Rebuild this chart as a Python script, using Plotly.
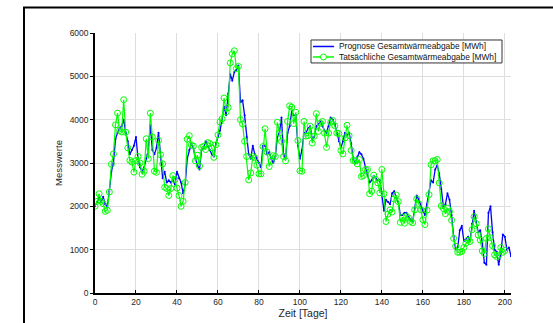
import numpy as np
import plotly.graph_objects as go

# Tatsächliche Gesamtwärmeabgabe [MWh], Tage 0..200
actual = [
    2000, 2115, 2290, 2115, 2060, 1885, 1910, 2330, 2970, 3210,
    3880, 4150, 3750, 3715, 4460, 3710, 3350, 3060, 3020, 2790,
    3055, 3150, 3000, 2740, 2810, 3560, 3100, 4150, 3600, 2810,
    2785, 3520, 3190, 2980, 2440, 2410, 2250, 2410, 2710, 2620,
    2420, 2250, 2000, 2115, 2550, 3550, 3630, 3420, 3390, 3050,
    3180, 2930, 3360, 3385, 3310, 3470, 3450, 3350, 3130, 3420,
    3650, 3950, 4020, 4500, 4180, 4280, 5310, 5520, 5590, 5180,
    5230, 4000, 3900, 3500, 3150, 2610, 2770, 3150, 3120, 2950,
    2750, 2750, 3380, 3790, 3250, 2920, 3040, 3170, 3150, 3940,
    3690, 3500, 3150, 3050, 3960, 4320, 4290, 3910, 4170, 3520,
    2820, 2810, 3960, 3620, 3630, 3850, 3460, 3620, 4140, 3730,
    3920, 3960, 3690, 3360, 3690, 3940, 3980, 3860, 3690, 3680,
    3290, 3210, 3580, 3870, 3630, 3290, 3060, 3050, 2980, 3080,
    2690, 2710, 2850, 2850, 2290, 2350, 2720, 2620, 2540, 2310,
    2850, 2290, 1650, 1820, 1920, 1870, 2170, 2260, 2110, 1630,
    1750, 1610, 1770, 1730, 1650, 1620, 1920, 2170, 2060, 1920,
    1690, 1580, 1910, 2270, 2960, 3050, 3050, 3080, 2540, 2010,
    1950, 1830, 1960, 1880, 1680, 1260, 1080, 940, 940, 960,
    1050, 1150, 1220, 1190, 1460, 1760, 1600, 1340, 1220, 970,
    910, 1260, 1480, 1280, 1090, 880, 840, 870, 1050, 940,
    980,
]

# Prognose Gesamtwärmeabgabe [MWh], Tage 0..203
forecast = [
    2000, 2100, 2200, 2100, 2220, 2050, 2000, 2350, 2800, 3000,
    3550, 3700, 3800, 3850, 4000, 3700, 3500, 3200, 3300, 3400,
    3600, 3100, 2900, 2800, 2900, 3100, 3300, 3870, 3300, 3200,
    3350, 3700, 3250, 2650, 2800, 2550, 2600, 2550, 2600, 2500,
    2800, 2650, 2550, 2300, 2500, 3100, 3300, 3450, 3350, 3100,
    2950, 2850, 3300, 3350, 3500, 3400, 3300, 3200, 3150, 3450,
    3600, 3750, 4000, 4300, 4100, 4600, 5050, 4900, 5100, 5150,
    5250, 4400, 4450, 4100, 3600, 3200, 3100, 3400, 3200, 3100,
    3000, 2900, 3400, 3400, 3200, 3250, 3100, 3000, 3150, 3600,
    3700, 4050, 3200, 3100, 3700, 3850, 4200, 4100, 4100, 3400,
    3100, 3300, 3700, 3700, 3800, 3850, 3550, 3600, 3850, 3900,
    3950, 3850, 3750, 3700, 3850, 4050, 4000, 3900, 3700, 3500,
    3350, 3500, 3700, 3650, 3700, 3450, 3100, 3000, 3150, 3250,
    3200, 3100, 2900, 2750, 2550, 2600, 2700, 2650, 2600, 2600,
    2300, 1900, 2150, 2100, 2050, 2300, 2350, 2200, 2100, 1800,
    1800, 1850, 1850, 1750, 1700, 1650, 1950, 2250, 2150, 2000,
    1900, 1800, 2050, 2350, 2600, 2550, 2850, 2950, 2750, 2400,
    2000, 2050, 2300, 2150, 1800, 1300, 1000, 1050, 1450, 1550,
    1200, 1250, 1300, 1200, 1600, 1900, 1650, 1400, 1450, 1150,
    700, 650, 1850, 2000, 1400, 1000, 950, 650, 900, 1350,
    1300, 1000, 1050, 850,
]

series_names = ["Prognose Gesamtwärmeabgabe [MWh]",
                "Tatsächliche Gesamtwärmeabgabe [MWh]"]
BLUE, GREEN = "#0000ff", "#00ff00"

days_actual = np.arange(len(actual))
days_forecast = np.arange(len(forecast))

FONT = "Liberation Sans, Arial, Helvetica, sans-serif"
TXT = "#262626"

fig = go.Figure()
fig.add_trace(go.Scatter(
    x=days_forecast, y=forecast, mode="lines+markers",
    name=series_names[0],
    line=dict(color=BLUE, width=1.3),
    marker=dict(color=BLUE, size=2),
))
fig.add_trace(go.Scatter(
    x=days_actual, y=actual, mode="lines+markers",
    name=series_names[1],
    line=dict(color=GREEN, width=1.2),
    marker=dict(symbol="circle-open", color=GREEN, size=6,
                line=dict(width=1, color=GREEN)),
))

# plot area in px: x 95..511, y 33..293
L, R, T, B = 95, 511, 33, 293.3
W, H = 553, 323

def px(xp):
    return (xp - L) / (R - L)

def py(yp):
    return (B - yp) / (B - T)

# compact legend box (drawn in paper coordinates)
LG_X0, LG_X1, LG_Y0, LG_Y1 = 311, 502, 40, 63
rows = [46.5, 57.0]
shapes = [
    dict(type="rect", xref="paper", yref="paper",
         x0=px(24), x1=px(620), y0=py(400), y1=py(7.5),
         line=dict(color="black", width=2), fillcolor="rgba(0,0,0,0)",
         layer="above"),
    dict(type="rect", xref="paper", yref="paper",
         x0=px(LG_X0), x1=px(LG_X1), y0=py(LG_Y1), y1=py(LG_Y0),
         line=dict(color="#333333", width=1), fillcolor="white",
         layer="above"),
    dict(type="line", xref="paper", yref="paper",
         x0=px(313), x1=px(334), y0=py(rows[0]), y1=py(rows[0]),
         line=dict(color=BLUE, width=1.5), layer="above"),
    dict(type="line", xref="paper", yref="paper",
         x0=px(313), x1=px(334), y0=py(rows[1]), y1=py(rows[1]),
         line=dict(color=GREEN, width=1.5), layer="above"),
    dict(type="circle", xref="paper", yref="paper",
         x0=px(320.5), x1=px(326.5), y0=py(rows[1] + 3), y1=py(rows[1] - 3),
         line=dict(color=GREEN, width=1), fillcolor="white", layer="above"),
]
annotations = [
    dict(xref="paper", yref="paper", x=px(337), y=py(r), text=t,
         xanchor="left", yanchor="middle", showarrow=False,
         font=dict(family=FONT, size=8.4, color="#111111"))
    for r, t in zip(rows, series_names)
]

fig.update_layout(
    width=W, height=H,
    margin=dict(l=L, r=W - R, t=T, b=H - B),
    paper_bgcolor="white", plot_bgcolor="white",
    font=dict(family=FONT, size=8.5, color=TXT),
    showlegend=False,
    xaxis=dict(
        range=[0, 203], dtick=20, tick0=0, automargin=False,
        showline=True, linecolor="black", linewidth=1.5,
        ticks="inside", ticklen=3, tickcolor="black",
        showgrid=True, gridcolor="#dedede", gridwidth=1,
        zeroline=False,
        tickfont=dict(family=FONT, size=8.5, color=TXT),
        title=dict(text="Zeit [Tage]", standoff=4,
                   font=dict(family=FONT, size=10.5, color=TXT)),
    ),
    yaxis=dict(
        range=[0, 6000], dtick=1000, tick0=0, tickformat="d", automargin=False,
        showline=True, linecolor="black", linewidth=1.5,
        ticks="outside", ticklen=3, tickcolor="black",
        showgrid=True, gridcolor="#dedede", gridwidth=1,
        zeroline=False,
        tickfont=dict(family=FONT, size=8.5, color=TXT),
        title=dict(text="Messwerte", standoff=5,
                   font=dict(family=FONT, size=9.5, color=TXT)),
    ),
    shapes=shapes,
    annotations=annotations,
)

fig.write_html("out.html")
